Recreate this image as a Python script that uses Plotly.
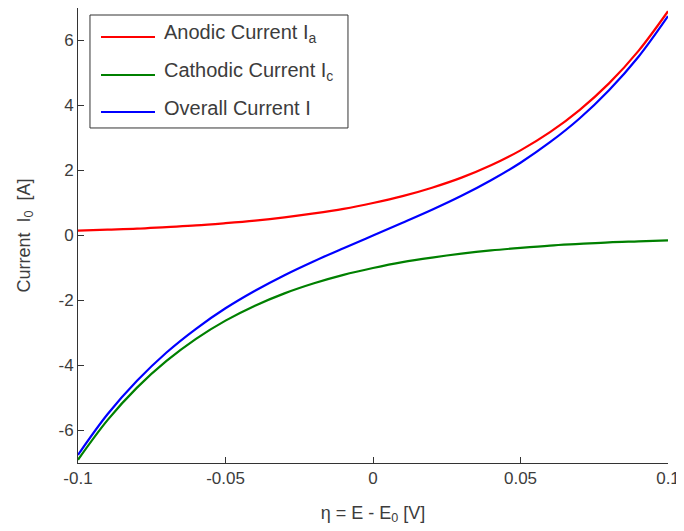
import plotly.graph_objects as go

eta = [-0.10, -0.09, -0.08, -0.07, -0.06, -0.05, -0.04, -0.03, -0.02, -0.01, 0.00,
       0.01, 0.02, 0.03, 0.04, 0.05, 0.06, 0.07, 0.08, 0.09, 0.10]
anodic = [0.15, 0.18, 0.21, 0.26, 0.31, 0.38, 0.46, 0.56, 0.68, 0.82, 1.00,
          1.21, 1.47, 1.78, 2.16, 2.62, 3.18, 3.86, 4.68, 5.68, 6.90]
cathodic = [-6.90, -5.68, -4.68, -3.86, -3.18, -2.62, -2.16, -1.78, -1.47, -1.21, -1.00,
            -0.82, -0.68, -0.56, -0.46, -0.38, -0.31, -0.26, -0.21, -0.18, -0.15]
overall = [-6.75, -5.50, -4.47, -3.60, -2.87, -2.24, -1.70, -1.22, -0.79, -0.39, 0.00,
           0.39, 0.79, 1.22, 1.70, 2.24, 2.87, 3.60, 4.47, 5.50, 6.75]

series_names = ["Anodic Current I<sub>a</sub>", "Cathodic Current I<sub>c</sub>", "Overall Current I"]
series_colors = ["#ff0000", "#008000", "#0000ff"]

x_ticks = [-0.1, -0.05, 0, 0.05, 0.1]
x_labels = ["-0.1", "-0.05", "0", "0.05", "0.1"]
y_ticks = [-6, -4, -2, 0, 2, 4, 6]
y_labels = ["-6", "-4", "-2", "0", "2", "4", "6"]

txt = "#3c3c3c"
fam = "Liberation Sans, Arial, sans-serif"

fig = go.Figure()
for yv, nm, col in zip([anodic, cathodic, overall], series_names, series_colors):
    fig.add_trace(go.Scatter(x=eta, y=yv, mode="lines", name=nm, showlegend=False,
                             line=dict(color=col, width=2.2, shape="spline")))

# manual legend (box, line samples, labels) in paper coordinates
fig.add_shape(type="rect", xref="paper", yref="paper", x0=0.0203, x1=0.4576, y0=0.7363, y1=0.9846,
              line=dict(color="#333333", width=1), fillcolor="white", layer="above")
legend_y = [0.9363, 0.8527, 0.7714]
for ly, nm, col in zip(legend_y, series_names, series_colors):
    fig.add_shape(type="line", xref="paper", yref="paper", x0=0.039, x1=0.1305, y0=ly, y1=ly,
                  line=dict(color=col, width=2.2), layer="above")
    fig.add_annotation(xref="paper", yref="paper", x=0.1424, y=ly + 0.008, xanchor="left", yanchor="middle",
                       text=nm, showarrow=False, font=dict(family=fam, size=20, color=txt))

fig.update_layout(
    width=676, height=523,
    margin=dict(l=70, r=16, t=0, b=68, autoexpand=False),
    paper_bgcolor="white", plot_bgcolor="white",
    font=dict(family=fam, size=17, color=txt),
    showlegend=False,
)
fig.update_xaxes(range=[-0.1, 0.1], tickvals=x_ticks, ticktext=x_labels, automargin=False,
                 showgrid=False, zeroline=False, showline=True, linecolor="#333333", linewidth=1,
                 ticks="inside", ticklen=6, tickcolor="#333333",
                 title=dict(text="η = E - E<sub>0</sub> [V]", standoff=18, font=dict(family=fam, size=18, color=txt)),
                 tickfont=dict(family=fam, size=17, color=txt))
fig.update_yaxes(range=[-7, 7], tickvals=y_ticks, ticktext=y_labels, automargin=False,
                 showgrid=False, zeroline=False, showline=True, linecolor="#333333", linewidth=1,
                 ticks="inside", ticklen=6, tickcolor="#333333",
                 title=dict(text="Current  I<sub>0</sub>  [A]", standoff=23, font=dict(family=fam, size=18, color=txt)),
                 tickfont=dict(family=fam, size=17, color=txt))

fig.write_html("out.html")
